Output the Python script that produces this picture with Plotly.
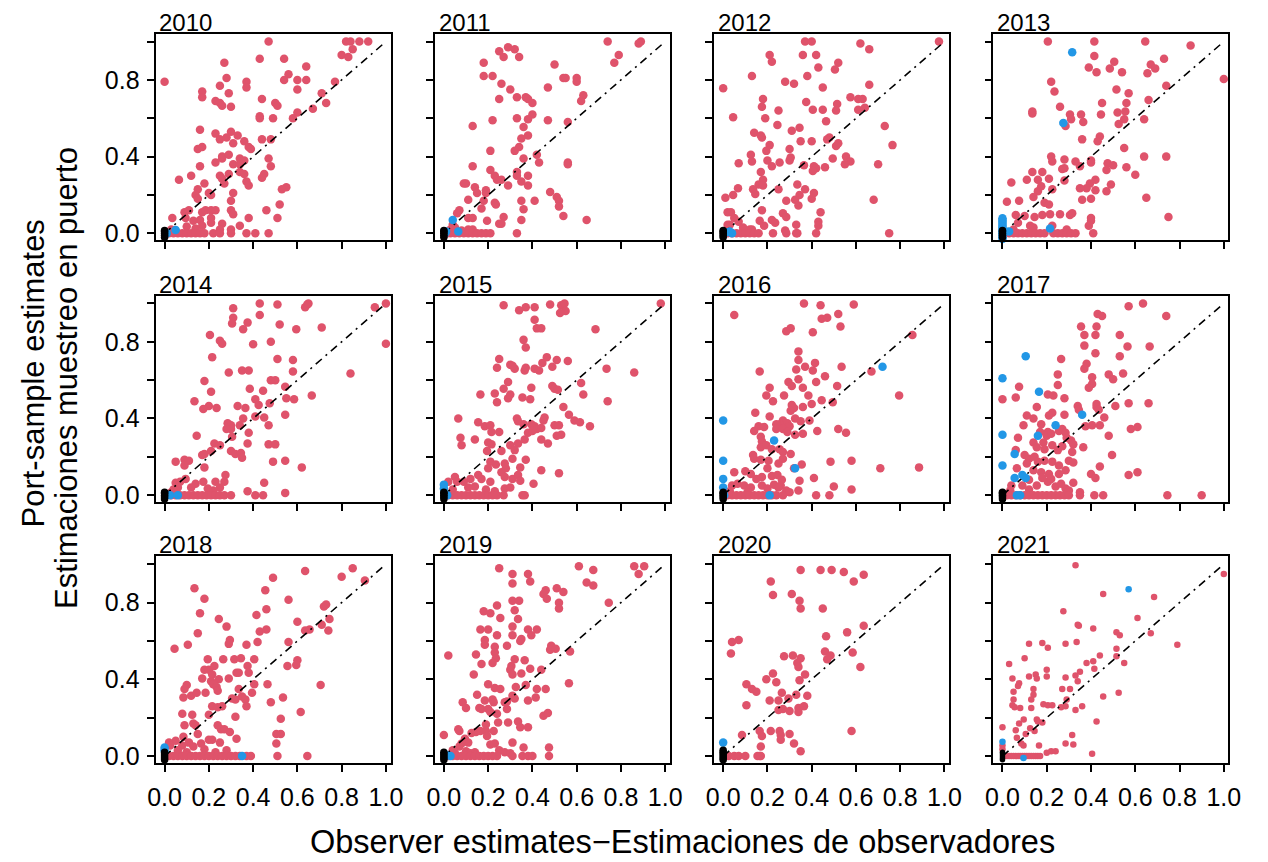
import plotly.graph_objects as go

# ---------------------------------------------------------------------------
# Data: (observer estimate, port-sample estimate) pairs for each year.
# red = main group, blue = secondary group, black = trips at the origin
# ---------------------------------------------------------------------------
years = [2010, 2011, 2012, 2013, 2014, 2015, 2016, 2017, 2018, 2019, 2020, 2021]

red_2010 = [
    (0.00, 0.79), (0.47, 1.00), (0.82, 1.00), (0.84, 1.00), (0.88, 1.00), (0.92, 1.00), (0.85, 0.96),
    (0.80, 0.93), (0.83, 0.92), (0.43, 0.91), (0.54, 0.91), (0.27, 0.89), (0.64, 0.87), (0.56, 0.83),
    (0.54, 0.80), (0.60, 0.80), (0.64, 0.80), (0.60, 0.75), (0.77, 0.79), (0.28, 0.81), (0.25, 0.77),
    (0.37, 0.79), (0.37, 0.76), (0.17, 0.74), (0.17, 0.71), (0.29, 0.73), (0.44, 0.70), (0.23, 0.69),
    (0.25, 0.68), (0.26, 0.665), (0.30, 0.66), (0.50, 0.68), (0.51, 0.665), (0.71, 0.73), (0.73, 0.68),
    (0.67, 0.65), (0.60, 0.63), (0.58, 0.60), (0.43, 0.61), (0.43, 0.60), (0.49, 0.60), (0.16, 0.54),
    (0.23, 0.52), (0.30, 0.53), (0.33, 0.51), (0.25, 0.49), (0.28, 0.50), (0.31, 0.47), (0.36, 0.48),
    (0.44, 0.49), (0.48, 0.49), (0.38, 0.45), (0.39, 0.44), (0.15, 0.44), (0.17, 0.45), (0.26, 0.40),
    (0.26, 0.39), (0.29, 0.41), (0.34, 0.39), (0.36, 0.38), (0.47, 0.39), (0.23, 0.37), (0.31, 0.36),
    (0.34, 0.36), (0.48, 0.35), (0.16, 0.35), (0.25, 0.30), (0.26, 0.285), (0.29, 0.31), (0.34, 0.32),
    (0.36, 0.31), (0.45, 0.31), (0.44, 0.29), (0.12, 0.30), (0.065, 0.28), (0.18, 0.26), (0.27, 0.26),
    (0.37, 0.27), (0.38, 0.25), (0.15, 0.23), (0.55, 0.24), (0.53, 0.23), (0.14, 0.20), (0.15, 0.18),
    (0.20, 0.21), (0.21, 0.20), (0.31, 0.21), (0.30, 0.17), (0.52, 0.15), (0.09, 0.11), (0.11, 0.12),
    (0.17, 0.11), (0.185, 0.12), (0.21, 0.12), (0.23, 0.12), (0.30, 0.12), (0.31, 0.10), (0.46, 0.12),
    (0.21, 0.08), (0.38, 0.08), (0.51, 0.08), (0.035, 0.08), (0.095, 0.08), (0.13, 0.065), (0.10, 0.035),
    (0.16, 0.07), (0.17, 0.04), (0.21, 0.055), (0.26, 0.05), (0.34, 0.04), (0.03, 0.02), (0.25, 0.02),
    (0.30, 0.02), (0.14, 0.025),
    (0.02, 0.0), (0.04, 0.0), (0.06, 0.0), (0.08, 0.0), (0.10, 0.0), (0.12, 0.0), (0.14, 0.0), (0.16, 0.0),
    (0.18, 0.0), (0.22, 0.0), (0.25, 0.0), (0.30, 0.0), (0.37, 0.0), (0.41, 0.0), (0.47, 0.0),
]
blue_2010 = [(0.05, 0.017), (0.01, 0.0)]
black_2010 = [(0.0, -0.02), (0.0, -0.01), (0.0, 0.0), (0.0, 0.01), (0.0, 0.015)]

red_2011 = [
    (0.74, 1.0), (0.89, 1.0), (0.88, 0.99), (0.79, 0.93), (0.77, 0.89), (0.29, 0.97), (0.32, 0.96),
    (0.25, 0.95), (0.27, 0.92), (0.34, 0.92), (0.18, 0.89), (0.50, 0.88), (0.18, 0.82), (0.22, 0.82),
    (0.54, 0.81), (0.55, 0.81), (0.60, 0.81), (0.60, 0.79), (0.26, 0.78), (0.30, 0.75), (0.47, 0.76),
    (0.63, 0.72), (0.62, 0.69), (0.25, 0.70), (0.33, 0.71), (0.37, 0.71), (0.38, 0.70), (0.40, 0.68),
    (0.40, 0.62), (0.22, 0.59), (0.33, 0.60), (0.38, 0.595), (0.47, 0.59), (0.56, 0.58), (0.13, 0.56),
    (0.36, 0.555), (0.38, 0.51), (0.35, 0.495), (0.34, 0.45), (0.32, 0.43), (0.21, 0.43), (0.42, 0.41),
    (0.36, 0.39), (0.43, 0.37), (0.56, 0.37), (0.56, 0.36), (0.13, 0.35), (0.21, 0.33), (0.33, 0.32),
    (0.23, 0.30), (0.24, 0.28), (0.26, 0.28), (0.33, 0.30), (0.38, 0.30), (0.35, 0.27), (0.09, 0.26),
    (0.10, 0.26), (0.29, 0.25), (0.38, 0.25), (0.14, 0.24), (0.19, 0.225), (0.19, 0.21), (0.15, 0.21),
    (0.48, 0.215), (0.51, 0.19), (0.52, 0.17), (0.11, 0.175), (0.18, 0.17), (0.23, 0.16), (0.235, 0.15),
    (0.35, 0.17), (0.41, 0.17), (0.17, 0.13), (0.36, 0.125), (0.52, 0.14), (0.07, 0.12), (0.06, 0.105),
    (0.27, 0.085), (0.11, 0.08), (0.13, 0.08), (0.54, 0.09), (0.645, 0.07), (0.195, 0.065), (0.35, 0.07),
    (0.25, 0.05), (0.26, 0.05), (0.04, 0.045), (0.05, 0.03), (0.13, 0.02), (0.11, 0.02), (0.03, 0.02),
    (0.08, 0.015),
    (0.015, 0.0), (0.03, 0.0), (0.05, 0.0), (0.07, 0.0), (0.09, 0.0), (0.11, 0.0), (0.13, 0.0), (0.15, 0.0),
    (0.17, 0.0), (0.19, 0.0), (0.21, 0.0), (0.33, 0.0),
]
blue_2011 = [(0.04, 0.07), (0.065, 0.01), (0.01, 0.01), (0.005, 0.0)]
black_2011 = [(0.0, -0.02), (0.0, -0.01), (0.0, 0.0), (0.0, 0.01), (0.0, 0.015)]

red_2012 = [
    (0.975, 1.0), (0.37, 1.0), (0.40, 1.0), (0.62, 0.99), (0.66, 0.96), (0.21, 0.93), (0.22, 0.895),
    (0.36, 0.93), (0.42, 0.93), (0.52, 0.89), (0.43, 0.865), (0.505, 0.855), (0.13, 0.82), (0.38, 0.82),
    (0.28, 0.79), (0.32, 0.78), (0.0, 0.757), (0.45, 0.76), (0.66, 0.775), (0.575, 0.71), (0.61, 0.70),
    (0.63, 0.70), (0.61, 0.645), (0.64, 0.655), (0.18, 0.70), (0.175, 0.66), (0.375, 0.685), (0.515, 0.675),
    (0.51, 0.64), (0.405, 0.645), (0.45, 0.645), (0.25, 0.64), (0.045, 0.605), (0.19, 0.60), (0.465, 0.585),
    (0.73, 0.56), (0.245, 0.565), (0.345, 0.55), (0.31, 0.535), (0.14, 0.525), (0.17, 0.51), (0.175, 0.50),
    (0.35, 0.48), (0.40, 0.48), (0.48, 0.50), (0.47, 0.49), (0.52, 0.47), (0.51, 0.455), (0.765, 0.46),
    (0.21, 0.46), (0.195, 0.43), (0.30, 0.44), (0.125, 0.41), (0.305, 0.395), (0.30, 0.38), (0.495, 0.39),
    (0.555, 0.40), (0.575, 0.375), (0.55, 0.36), (0.07, 0.365), (0.13, 0.375), (0.20, 0.38), (0.22, 0.35),
    (0.255, 0.37), (0.70, 0.36), (0.365, 0.355), (0.41, 0.35), (0.42, 0.34), (0.405, 0.325), (0.46, 0.345),
    (0.17, 0.32), (0.18, 0.28), (0.16, 0.255), (0.18, 0.25), (0.335, 0.255), (0.067, 0.235), (0.135, 0.23),
    (0.145, 0.205), (0.25, 0.23), (0.37, 0.23), (0.41, 0.21), (0.345, 0.20), (0.01, 0.185), (0.045, 0.20),
    (0.285, 0.17), (0.325, 0.175), (0.40, 0.18), (0.68, 0.175), (0.34, 0.145), (0.02, 0.11), (0.035, 0.11),
    (0.175, 0.12), (0.27, 0.105), (0.285, 0.085), (0.44, 0.11), (0.05, 0.08), (0.07, 0.06), (0.22, 0.07),
    (0.235, 0.055), (0.165, 0.065), (0.185, 0.04), (0.43, 0.06), (0.43, 0.04), (0.33, 0.045), (0.02, 0.045),
    (0.03, 0.045), (0.12, 0.02), (0.13, 0.02), (0.09, 0.03), (0.28, 0.015),
    (0.02, 0.0), (0.04, 0.0), (0.06, 0.0), (0.08, 0.0), (0.10, 0.0), (0.12, 0.0), (0.14, 0.0), (0.16, 0.0),
    (0.225, 0.0), (0.285, 0.0), (0.33, 0.0), (0.335, 0.0), (0.42, 0.0), (0.75, 0.0),
]
blue_2012 = [(0.04, 0.0), (0.03, 0.01), (0.015, 0.005)]
black_2012 = [(0.0, -0.02), (0.0, -0.01), (0.0, 0.0), (0.0, 0.01), (0.0, 0.015)]

red_2013 = [
    (0.205, 1.0), (0.415, 1.0), (0.645, 1.0), (0.85, 0.98), (0.415, 0.925), (0.505, 0.895), (0.73, 0.91),
    (0.67, 0.88), (0.69, 0.86), (0.39, 0.865), (0.425, 0.84), (0.485, 0.86), (0.54, 0.84), (0.655, 0.835),
    (1.0, 0.805), (0.22, 0.79), (0.74, 0.77), (0.515, 0.75), (0.235, 0.74), (0.57, 0.73), (0.66, 0.695),
    (0.45, 0.68), (0.56, 0.68), (0.26, 0.66), (0.135, 0.625), (0.135, 0.635), (0.305, 0.62), (0.31, 0.595),
    (0.355, 0.62), (0.445, 0.62), (0.52, 0.63), (0.555, 0.635), (0.55, 0.595), (0.64, 0.595), (0.365, 0.58),
    (0.525, 0.57), (0.285, 0.56), (0.44, 0.505), (0.43, 0.48), (0.36, 0.49), (0.55, 0.445), (0.22, 0.40),
    (0.225, 0.375), (0.28, 0.385), (0.33, 0.375), (0.35, 0.35), (0.40, 0.38), (0.40, 0.37), (0.64, 0.40),
    (0.74, 0.40), (0.475, 0.365), (0.50, 0.355), (0.47, 0.33), (0.28, 0.34), (0.27, 0.335), (0.56, 0.345),
    (0.135, 0.32), (0.18, 0.32), (0.60, 0.305), (0.11, 0.28), (0.16, 0.28), (0.21, 0.285), (0.28, 0.275),
    (0.42, 0.28), (0.04, 0.265), (0.175, 0.245), (0.16, 0.22), (0.225, 0.23), (0.395, 0.26), (0.38, 0.235),
    (0.35, 0.235), (0.49, 0.255), (0.42, 0.225), (0.47, 0.22), (0.14, 0.19), (0.19, 0.16), (0.21, 0.15),
    (0.075, 0.17), (0.02, 0.165), (0.36, 0.175), (0.40, 0.18), (0.65, 0.185), (0.06, 0.095), (0.07, 0.055),
    (0.10, 0.09), (0.145, 0.085), (0.18, 0.095), (0.215, 0.10), (0.26, 0.10), (0.305, 0.095), (0.315, 0.105),
    (0.40, 0.08), (0.40, 0.065), (0.39, 0.04), (0.75, 0.085), (0.125, 0.04), (0.14, 0.03), (0.225, 0.04),
    (0.05, 0.02), (0.29, 0.02),
    (0.03, 0.0), (0.05, 0.0), (0.07, 0.0), (0.09, 0.0), (0.11, 0.0), (0.13, 0.0), (0.15, 0.0), (0.17, 0.0),
    (0.19, 0.0), (0.23, 0.0), (0.25, 0.0), (0.27, 0.0), (0.29, 0.0), (0.31, 0.0), (0.33, 0.0), (0.41, 0.0),
]
blue_2013 = [
    (0.315, 0.945), (0.275, 0.575), (0.215, 0.025), (0.03, 0.01),
    (0.0, -0.07), (0.0, -0.06), (0.0, -0.05), (0.0, -0.04), (0.0, -0.03), (0.0, -0.02), (0.0, -0.01),
    (0.0, 0.0), (0.0, 0.01), (0.0, 0.02), (0.0, 0.03), (0.0, 0.04), (0.0, 0.05), (0.0, 0.06), (0.0, 0.07),
    (0.0, 0.078),
]
black_2013 = [(0.0, -0.02), (0.0, -0.01), (0.0, 0.0), (0.0, 0.01), (0.0, 0.015)]

red_2014 = [
    (0.43, 1.0), (0.51, 0.995), (0.645, 0.995), (0.635, 0.98), (0.65, 1.0), (0.95, 0.98), (1.0, 1.0),
    (0.31, 0.975), (0.43, 0.94), (0.31, 0.925), (0.305, 0.895), (0.375, 0.90), (0.52, 0.89), (0.71, 0.875),
    (0.355, 0.865), (0.595, 0.865), (0.205, 0.835), (0.25, 0.805), (0.26, 0.79), (0.48, 0.80), (0.40, 0.787),
    (1.0, 0.79), (0.215, 0.72), (0.51, 0.71), (0.58, 0.705), (0.35, 0.65), (0.38, 0.65), (0.29, 0.64),
    (0.58, 0.645), (0.84, 0.635), (0.18, 0.595), (0.48, 0.60), (0.50, 0.60), (0.545, 0.565), (0.385, 0.555),
    (0.21, 0.54), (0.445, 0.545), (0.665, 0.52), (0.41, 0.50), (0.425, 0.47), (0.55, 0.505), (0.585, 0.50),
    (0.135, 0.49), (0.20, 0.465), (0.175, 0.45), (0.235, 0.455), (0.33, 0.465), (0.365, 0.455), (0.475, 0.48),
    (0.41, 0.41), (0.45, 0.405), (0.545, 0.42), (0.355, 0.40), (0.285, 0.375), (0.30, 0.365), (0.30, 0.345),
    (0.28, 0.345), (0.34, 0.365), (0.38, 0.325), (0.47, 0.365), (0.145, 0.31), (0.305, 0.305), (0.225, 0.27),
    (0.25, 0.26), (0.375, 0.27), (0.47, 0.265), (0.50, 0.265), (0.17, 0.21), (0.18, 0.215), (0.21, 0.23),
    (0.30, 0.23), (0.32, 0.215), (0.345, 0.22), (0.35, 0.195), (0.05, 0.175), (0.09, 0.185), (0.11, 0.18),
    (0.09, 0.155), (0.18, 0.145), (0.49, 0.175), (0.545, 0.18), (0.62, 0.145), (0.095, 0.085), (0.05, 0.065),
    (0.07, 0.07), (0.06, 0.04), (0.275, 0.105), (0.14, 0.06), (0.175, 0.07), (0.23, 0.07), (0.27, 0.07),
    (0.25, 0.04), (0.45, 0.065), (0.375, 0.02), (0.545, 0.012), (0.12, 0.04), (0.195, 0.035), (0.22, 0.025),
    (0.04, 0.03), (0.03, 0.015),
    (0.03, 0.0), (0.05, 0.0), (0.07, 0.0), (0.09, 0.0), (0.11, 0.0), (0.13, 0.0), (0.15, 0.0), (0.17, 0.0),
    (0.19, 0.0), (0.21, 0.0), (0.23, 0.0), (0.25, 0.0), (0.27, 0.0), (0.30, 0.0), (0.41, 0.0), (0.445, 0.0),
]
blue_2014 = [(0.025, 0.0), (0.06, 0.0)]
black_2014 = [(0.0, -0.02), (0.0, -0.01), (0.0, 0.0), (0.0, 0.01), (0.0, 0.015)]

red_2015 = [
    (0.98, 1.0), (0.27, 0.99), (0.37, 0.98), (0.41, 0.98), (0.34, 0.965), (0.48, 0.995), (0.53, 0.99),
    (0.545, 1.0), (0.55, 0.96), (0.525, 0.95), (0.41, 0.915), (0.42, 0.87), (0.44, 0.87), (0.685, 0.865),
    (0.36, 0.81), (0.37, 0.77), (0.25, 0.71), (0.24, 0.665), (0.30, 0.68), (0.32, 0.66), (0.31, 0.675),
    (0.365, 0.65), (0.37, 0.665), (0.41, 0.66), (0.43, 0.65), (0.445, 0.69), (0.465, 0.72), (0.49, 0.67),
    (0.51, 0.705), (0.56, 0.70), (0.735, 0.66), (0.86, 0.64), (0.29, 0.59), (0.27, 0.555), (0.29, 0.505),
    (0.30, 0.525), (0.23, 0.53), (0.165, 0.525), (0.24, 0.485), (0.355, 0.51), (0.39, 0.50), (0.395, 0.56),
    (0.49, 0.57), (0.50, 0.555), (0.515, 0.55), (0.62, 0.585), (0.63, 0.525), (0.74, 0.49), (0.54, 0.46),
    (0.065, 0.40), (0.155, 0.38), (0.185, 0.36), (0.21, 0.365), (0.215, 0.33), (0.25, 0.33), (0.33, 0.40),
    (0.335, 0.385), (0.36, 0.37), (0.395, 0.37), (0.41, 0.36), (0.42, 0.345), (0.44, 0.35), (0.455, 0.405),
    (0.45, 0.39), (0.50, 0.365), (0.52, 0.365), (0.53, 0.315), (0.51, 0.31), (0.565, 0.42), (0.59, 0.39),
    (0.615, 0.38), (0.66, 0.36), (0.38, 0.325), (0.40, 0.335), (0.44, 0.29), (0.47, 0.27), (0.075, 0.30),
    (0.08, 0.26), (0.14, 0.29), (0.20, 0.275), (0.215, 0.265), (0.195, 0.23), (0.26, 0.23), (0.30, 0.26),
    (0.335, 0.27), (0.365, 0.29), (0.32, 0.235), (0.31, 0.19), (0.37, 0.185), (0.21, 0.175), (0.235, 0.16),
    (0.275, 0.165), (0.20, 0.14), (0.26, 0.12), (0.28, 0.14), (0.345, 0.145), (0.44, 0.13), (0.52, 0.115),
    (0.155, 0.105), (0.17, 0.085), (0.12, 0.085), (0.09, 0.07), (0.05, 0.095), (0.06, 0.07), (0.02, 0.07),
    (0.21, 0.07), (0.275, 0.095), (0.31, 0.085), (0.335, 0.105), (0.345, 0.075), (0.405, 0.06), (0.275, 0.035),
    (0.30, 0.04), (0.14, 0.045), (0.11, 0.04), (0.04, 0.03), (0.19, 0.03), (0.23, 0.02),
    (0.02, 0.0), (0.04, 0.0), (0.06, 0.0), (0.08, 0.0), (0.10, 0.0), (0.12, 0.0), (0.14, 0.0), (0.16, 0.0),
    (0.18, 0.0), (0.20, 0.0), (0.22, 0.0), (0.24, 0.0), (0.27, 0.0), (0.355, 0.0), (0.365, 0.0),
]
blue_2015 = [(0.0, 0.055), (0.0, 0.035), (0.015, 0.0)]
black_2015 = [(0.0, -0.02), (0.0, -0.01), (0.0, 0.0), (0.0, 0.01), (0.0, 0.015)]

red_2016 = [
    (0.365, 1.0), (0.44, 0.99), (0.59, 0.995), (0.05, 0.94), (0.52, 0.945), (0.445, 0.92), (0.47, 0.925),
    (0.53, 0.88), (0.285, 0.855), (0.305, 0.87), (0.405, 0.85), (0.855, 0.835), (0.34, 0.75), (0.34, 0.705),
    (0.415, 0.69), (0.37, 0.67), (0.33, 0.655), (0.405, 0.65), (0.535, 0.67), (0.165, 0.645), (0.67, 0.645),
    (0.46, 0.62), (0.34, 0.605), (0.42, 0.59), (0.295, 0.59), (0.31, 0.57), (0.515, 0.57), (0.21, 0.56),
    (0.36, 0.56), (0.795, 0.52), (0.195, 0.52), (0.275, 0.52), (0.385, 0.52), (0.445, 0.495), (0.495, 0.485),
    (0.225, 0.49), (0.40, 0.475), (0.31, 0.47), (0.32, 0.455), (0.305, 0.44), (0.36, 0.46), (0.145, 0.43),
    (0.21, 0.41), (0.325, 0.40), (0.35, 0.385), (0.39, 0.39), (0.27, 0.39), (0.255, 0.37), (0.29, 0.375),
    (0.30, 0.36), (0.16, 0.36), (0.185, 0.355), (0.14, 0.335), (0.17, 0.305), (0.24, 0.37), (0.24, 0.345),
    (0.27, 0.345), (0.29, 0.33), (0.325, 0.315), (0.36, 0.32), (0.425, 0.335), (0.52, 0.345), (0.555, 0.325),
    (0.175, 0.28), (0.17, 0.25), (0.195, 0.26), (0.22, 0.24), (0.255, 0.24), (0.27, 0.225), (0.135, 0.21),
    (0.14, 0.19), (0.17, 0.185), (0.205, 0.18), (0.20, 0.14), (0.27, 0.19), (0.25, 0.165), (0.305, 0.215),
    (0.32, 0.14), (0.355, 0.16), (0.485, 0.175), (0.58, 0.18), (0.71, 0.14), (0.885, 0.145), (0.05, 0.12),
    (0.10, 0.125), (0.125, 0.11), (0.15, 0.085), (0.175, 0.095), (0.22, 0.10), (0.245, 0.105), (0.265, 0.08),
    (0.26, 0.05), (0.345, 0.075), (0.41, 0.09), (0.50, 0.045), (0.58, 0.03), (0.34, 0.025), (0.04, 0.05),
    (0.065, 0.06), (0.095, 0.05), (0.125, 0.04), (0.175, 0.05), (0.20, 0.035), (0.23, 0.055), (0.25, 0.04),
    (0.285, 0.025), (0.30, 0.015), (0.03, 0.02), (0.11, 0.015),
    (0.02, 0.0), (0.04, 0.0), (0.06, 0.0), (0.08, 0.0), (0.10, 0.0), (0.12, 0.0), (0.14, 0.0), (0.16, 0.0),
    (0.18, 0.0), (0.20, 0.0), (0.22, 0.0), (0.24, 0.0), (0.27, 0.0), (0.42, 0.0), (0.48, 0.0),
]
blue_2016 = [(0.72, 0.67), (0.23, 0.285), (0.325, 0.14), (0.0, 0.39), (0.0, 0.18), (0.0, 0.085),
             (0.0, 0.04), (0.005, 0.0), (0.21, 0.0)]
black_2016 = [(0.0, -0.02), (0.0, -0.01), (0.0, 0.0), (0.0, 0.01), (0.0, 0.015)]

red_2017 = [
    (0.57, 0.985), (0.635, 1.0), (0.74, 0.935), (0.43, 0.945), (0.45, 0.935), (0.355, 0.88), (0.425, 0.88),
    (0.37, 0.835), (0.42, 0.835), (0.53, 0.835), (0.37, 0.78), (0.565, 0.775), (0.665, 0.775), (0.42, 0.74),
    (0.53, 0.725), (0.265, 0.71), (0.38, 0.685), (0.37, 0.66), (0.25, 0.63), (0.25, 0.575), (0.405, 0.615),
    (0.48, 0.63), (0.50, 0.605), (0.545, 0.635), (0.405, 0.58), (0.39, 0.56), (0.075, 0.565), (0.205, 0.525),
    (0.23, 0.52), (0.28, 0.505), (0.0, 0.50), (0.06, 0.51), (0.425, 0.475), (0.425, 0.46), (0.435, 0.445),
    (0.34, 0.465), (0.345, 0.445), (0.51, 0.465), (0.57, 0.48), (0.66, 0.48), (0.155, 0.46), (0.225, 0.43),
    (0.21, 0.415), (0.28, 0.42), (0.11, 0.415), (0.14, 0.40), (0.46, 0.405), (0.095, 0.365), (0.175, 0.37),
    (0.17, 0.33), (0.375, 0.36), (0.405, 0.365), (0.44, 0.365), (0.58, 0.345), (0.61, 0.355), (0.205, 0.33),
    (0.20, 0.31), (0.22, 0.32), (0.255, 0.335), (0.27, 0.345), (0.285, 0.325), (0.29, 0.30), (0.07, 0.30),
    (0.48, 0.31), (0.14, 0.275), (0.155, 0.25), (0.185, 0.275), (0.19, 0.24), (0.225, 0.26), (0.25, 0.235),
    (0.27, 0.255), (0.31, 0.285), (0.32, 0.265), (0.365, 0.25), (0.315, 0.225), (0.06, 0.235), (0.10, 0.21),
    (0.12, 0.19), (0.11, 0.165), (0.065, 0.14), (0.145, 0.20), (0.16, 0.175), (0.19, 0.18), (0.225, 0.175),
    (0.255, 0.155), (0.30, 0.18), (0.32, 0.17), (0.495, 0.21), (0.44, 0.15), (0.40, 0.11), (0.42, 0.09),
    (0.57, 0.105), (0.61, 0.12), (0.14, 0.13), (0.175, 0.12), (0.21, 0.11), (0.255, 0.11), (0.285, 0.13),
    (0.32, 0.065), (0.205, 0.07), (0.155, 0.05), (0.24, 0.045), (0.285, 0.035), (0.30, 0.025), (0.35, 0.015),
    (0.04, 0.05), (0.035, 0.025), (0.12, 0.08), (0.09, 0.05), (0.12, 0.03), (0.18, 0.09), (0.22, 0.085),
    (0.265, 0.06),
    (0.02, 0.0), (0.04, 0.0), (0.06, 0.0), (0.08, 0.0), (0.10, 0.0), (0.12, 0.0), (0.14, 0.0), (0.16, 0.0),
    (0.18, 0.0), (0.20, 0.0), (0.22, 0.0), (0.24, 0.0), (0.26, 0.0), (0.28, 0.0), (0.30, 0.0), (0.35, 0.0),
    (0.415, 0.0), (0.455, 0.0), (0.745, 0.0), (0.90, 0.0),
]
blue_2017 = [(0.105, 0.725), (0.0, 0.61), (0.165, 0.54), (0.36, 0.42), (0.24, 0.365), (0.16, 0.31),
             (0.0, 0.315), (0.055, 0.215), (0.0, 0.155), (0.055, 0.09), (0.09, 0.105), (0.105, 0.09),
             (0.065, 0.0), (0.08, 0.0)]
black_2017 = [(0.0, -0.02), (0.0, -0.01), (0.0, 0.0), (0.0, 0.01), (0.0, 0.015)]

red_2018 = [
    (0.85, 0.98), (0.635, 0.965), (0.80, 0.935), (0.905, 0.915), (0.49, 0.93), (0.455, 0.865), (0.135, 0.875),
    (0.18, 0.82), (0.56, 0.815), (0.46, 0.765), (0.16, 0.745), (0.72, 0.78), (0.73, 0.79), (0.415, 0.735),
    (0.245, 0.715), (0.28, 0.675), (0.60, 0.70), (0.745, 0.715), (0.71, 0.685), (0.74, 0.655), (0.43, 0.65),
    (0.46, 0.66), (0.635, 0.655), (0.655, 0.66), (0.15, 0.64), (0.295, 0.605), (0.29, 0.585), (0.42, 0.595),
    (0.37, 0.58), (0.56, 0.595), (0.045, 0.56), (0.105, 0.58), (0.195, 0.505), (0.18, 0.45), (0.20, 0.45),
    (0.225, 0.47), (0.265, 0.505), (0.315, 0.505), (0.345, 0.51), (0.405, 0.505), (0.375, 0.47), (0.38, 0.435),
    (0.60, 0.50), (0.595, 0.475), (0.555, 0.47), (0.17, 0.405), (0.215, 0.425), (0.21, 0.39), (0.245, 0.40),
    (0.29, 0.405), (0.325, 0.435), (0.335, 0.435), (0.10, 0.37), (0.09, 0.35), (0.085, 0.305), (0.12, 0.315),
    (0.145, 0.33), (0.185, 0.33), (0.22, 0.375), (0.235, 0.36), (0.24, 0.34), (0.305, 0.30), (0.32, 0.295),
    (0.35, 0.31), (0.365, 0.295), (0.395, 0.33), (0.405, 0.375), (0.335, 0.35), (0.465, 0.375), (0.48, 0.28),
    (0.705, 0.37), (0.535, 0.305), (0.215, 0.26), (0.24, 0.255), (0.26, 0.26), (0.37, 0.26), (0.08, 0.22),
    (0.09, 0.16), (0.125, 0.215), (0.13, 0.17), (0.14, 0.16), (0.15, 0.115), (0.20, 0.215), (0.32, 0.205),
    (0.24, 0.16), (0.255, 0.14), (0.27, 0.14), (0.525, 0.195), (0.525, 0.115), (0.505, 0.115), (0.505, 0.065),
    (0.615, 0.23), (0.295, 0.125), (0.325, 0.09), (0.20, 0.085), (0.215, 0.085), (0.25, 0.07), (0.085, 0.10),
    (0.05, 0.08), (0.11, 0.07), (0.08, 0.055), (0.165, 0.065), (0.13, 0.05), (0.18, 0.035), (0.02, 0.07),
    (0.025, 0.055), (0.06, 0.03), (0.10, 0.02), (0.28, 0.03), (0.23, 0.02),
    (0.02, 0.0), (0.04, 0.0), (0.06, 0.0), (0.08, 0.0), (0.10, 0.0), (0.12, 0.0), (0.14, 0.0), (0.16, 0.0),
    (0.18, 0.0), (0.20, 0.0), (0.22, 0.0), (0.24, 0.0), (0.26, 0.0), (0.28, 0.0), (0.30, 0.0), (0.32, 0.0),
    (0.34, 0.0), (0.37, 0.0), (0.39, 0.0), (0.51, 0.0), (0.645, 0.0),
]
blue_2018 = [(0.0, 0.045), (0.35, 0.0), (0.0, 0.03)]
black_2018 = [(0.0, -0.02), (0.0, -0.01), (0.0, 0.0), (0.0, 0.01), (0.0, 0.02)]

red_2019 = [
    (0.25, 0.98), (0.61, 0.99), (0.675, 0.97), (0.86, 0.99), (0.905, 0.99), (0.88, 0.95), (0.31, 0.95),
    (0.31, 0.90), (0.38, 0.95), (0.39, 0.91), (0.645, 0.905), (0.675, 0.89), (0.51, 0.875), (0.54, 0.855),
    (0.46, 0.865), (0.45, 0.845), (0.465, 0.82), (0.31, 0.81), (0.34, 0.81), (0.52, 0.80), (0.52, 0.77),
    (0.745, 0.80), (0.24, 0.785), (0.32, 0.76), (0.18, 0.755), (0.21, 0.745), (0.255, 0.72), (0.335, 0.715),
    (0.165, 0.66), (0.20, 0.66), (0.31, 0.675), (0.38, 0.66), (0.42, 0.66), (0.395, 0.63), (0.24, 0.63),
    (0.31, 0.63), (0.35, 0.61), (0.345, 0.60), (0.185, 0.605), (0.185, 0.58), (0.23, 0.57), (0.285, 0.575),
    (0.485, 0.575), (0.48, 0.555), (0.505, 0.56), (0.57, 0.545), (0.02, 0.525), (0.145, 0.53), (0.23, 0.54),
    (0.235, 0.51), (0.22, 0.485), (0.32, 0.505), (0.365, 0.50), (0.17, 0.48), (0.305, 0.47), (0.30, 0.45),
    (0.31, 0.425), (0.39, 0.455), (0.35, 0.43), (0.44, 0.45), (0.135, 0.425), (0.565, 0.38), (0.20, 0.375),
    (0.23, 0.355), (0.255, 0.35), (0.325, 0.36), (0.37, 0.37), (0.42, 0.35), (0.46, 0.35), (0.15, 0.32),
    (0.22, 0.295), (0.225, 0.28), (0.185, 0.29), (0.17, 0.245), (0.275, 0.28), (0.285, 0.285), (0.31, 0.315),
    (0.32, 0.30), (0.38, 0.29), (0.415, 0.305), (0.085, 0.28), (0.10, 0.25), (0.16, 0.25), (0.20, 0.245),
    (0.21, 0.23), (0.24, 0.22), (0.285, 0.245), (0.45, 0.21), (0.47, 0.225), (0.245, 0.175), (0.29, 0.175),
    (0.335, 0.18), (0.345, 0.15), (0.38, 0.15), (0.065, 0.14), (0.07, 0.13), (0.0, 0.11), (0.19, 0.165),
    (0.19, 0.13), (0.225, 0.13), (0.125, 0.12), (0.145, 0.125), (0.165, 0.13), (0.095, 0.09), (0.11, 0.07),
    (0.08, 0.065), (0.07, 0.05), (0.195, 0.105), (0.21, 0.06), (0.23, 0.065), (0.31, 0.07), (0.36, 0.045),
    (0.475, 0.045), (0.25, 0.03), (0.275, 0.02), (0.30, 0.015), (0.14, 0.02), (0.10, 0.025), (0.12, 0.015),
    (0.04, 0.03), (0.05, 0.015),
    (0.02, 0.0), (0.04, 0.0), (0.06, 0.0), (0.08, 0.0), (0.10, 0.0), (0.12, 0.0), (0.14, 0.0), (0.16, 0.0),
    (0.18, 0.0), (0.20, 0.0), (0.22, 0.0), (0.24, 0.0), (0.31, 0.0), (0.355, 0.0), (0.38, 0.0), (0.40, 0.0),
    (0.475, 0.0),
]
blue_2019 = [(0.03, 0.0), (0.01, 0.005)]
black_2019 = [(0.0, -0.02), (0.0, -0.01), (0.0, 0.0), (0.0, 0.01), (0.0, 0.02)]

red_2020 = [
    (0.35, 0.97), (0.44, 0.97), (0.49, 0.97), (0.545, 0.96), (0.635, 0.945), (0.59, 0.91), (0.215, 0.91),
    (0.225, 0.84), (0.31, 0.845), (0.345, 0.81), (0.35, 0.77), (0.45, 0.77), (0.635, 0.68), (0.56, 0.645),
    (0.465, 0.625), (0.04, 0.595), (0.07, 0.605), (0.035, 0.535), (0.46, 0.545), (0.485, 0.525), (0.47, 0.505),
    (0.585, 0.54), (0.275, 0.52), (0.315, 0.525), (0.35, 0.51), (0.335, 0.485), (0.34, 0.465), (0.62, 0.465),
    (0.37, 0.425), (0.225, 0.43), (0.195, 0.40), (0.24, 0.385), (0.345, 0.395), (0.105, 0.375), (0.13, 0.35),
    (0.15, 0.335), (0.265, 0.33), (0.33, 0.32), (0.38, 0.315), (0.21, 0.29), (0.25, 0.29), (0.295, 0.30),
    (0.105, 0.265), (0.25, 0.24), (0.27, 0.245), (0.30, 0.235), (0.34, 0.25), (0.34, 0.23), (0.365, 0.26),
    (0.215, 0.13), (0.255, 0.13), (0.26, 0.11), (0.26, 0.085), (0.165, 0.13), (0.175, 0.105), (0.17, 0.05),
    (0.30, 0.115), (0.32, 0.065), (0.35, 0.025), (0.085, 0.11), (0.58, 0.13),
    (0.025, 0.0), (0.05, 0.0), (0.07, 0.0), (0.10, 0.0), (0.155, 0.0), (0.165, 0.0), (0.17, 0.0),
]
blue_2020 = [(0.0, 0.07)]
black_2020 = [(0.0, -0.02), (0.0, -0.01), (0.0, 0.0), (0.0, 0.01), (0.0, 0.02), (0.0, 0.03)]

red_2021 = [
    (0.33, 0.995), (1.0, 0.95), (0.455, 0.845), (0.685, 0.83), (0.275, 0.755), (0.61, 0.72), (0.34, 0.685),
    (0.345, 0.68), (0.41, 0.665), (0.515, 0.645), (0.53, 0.63), (0.67, 0.64), (0.12, 0.585), (0.18, 0.59),
    (0.205, 0.565), (0.285, 0.585), (0.335, 0.595), (0.79, 0.58), (0.515, 0.56), (0.44, 0.525), (0.515, 0.52),
    (0.10, 0.51), (0.41, 0.495), (0.415, 0.455), (0.38, 0.485), (0.55, 0.485), (0.03, 0.48), (0.20, 0.45),
    (0.35, 0.44), (0.33, 0.42), (0.12, 0.415), (0.15, 0.425), (0.155, 0.405), (0.20, 0.415), (0.045, 0.405),
    (0.285, 0.41), (0.34, 0.39), (0.075, 0.38), (0.07, 0.365), (0.14, 0.35), (0.14, 0.32), (0.27, 0.35),
    (0.305, 0.35), (0.05, 0.335), (0.525, 0.33), (0.455, 0.31), (0.13, 0.295), (0.05, 0.295), (0.29, 0.295),
    (0.045, 0.265), (0.055, 0.255), (0.08, 0.25), (0.13, 0.25), (0.185, 0.27), (0.205, 0.265), (0.225, 0.265),
    (0.265, 0.255), (0.285, 0.26), (0.36, 0.26), (0.33, 0.24), (0.155, 0.19), (0.16, 0.18), (0.096, 0.19),
    (0.075, 0.17), (0.18, 0.175), (0.425, 0.18), (0.0, 0.15), (0.06, 0.135), (0.125, 0.145), (0.145, 0.13),
    (0.105, 0.115), (0.315, 0.11), (0.065, 0.095), (0.085, 0.065), (0.095, 0.055), (0.165, 0.055),
    (0.285, 0.065), (0.32, 0.06), (0.20, 0.017), (0.22, 0.025), (0.24, 0.025), (0.405, 0.012), (0.0, 0.055),
    (0.0, 0.035),
    (0.01, 0.0), (0.02, 0.0), (0.03, 0.0), (0.04, 0.0), (0.05, 0.0), (0.06, 0.0), (0.07, 0.0), (0.08, 0.0),
    (0.09, 0.0), (0.10, 0.0), (0.11, 0.0), (0.12, 0.0), (0.13, 0.0), (0.14, 0.0), (0.15, 0.0), (0.16, 0.0),
    (0.17, 0.0),
]
blue_2021 = [(0.57, 0.87), (0.0, 0.075), (0.095, -0.01)]
black_2021 = [(0.0, -0.02), (0.0, -0.01), (0.0, 0.0), (0.0, 0.01), (0.0, 0.02)]

red_by_year = [red_2010, red_2011, red_2012, red_2013, red_2014, red_2015,
               red_2016, red_2017, red_2018, red_2019, red_2020, red_2021]
blue_by_year = [blue_2010, blue_2011, blue_2012, blue_2013, blue_2014, blue_2015,
                blue_2016, blue_2017, blue_2018, blue_2019, blue_2020, blue_2021]
black_by_year = [black_2010, black_2011, black_2012, black_2013, black_2014, black_2015,
                 black_2016, black_2017, black_2018, black_2019, black_2020, black_2021]

tick_values = [0.0, 0.2, 0.4, 0.6, 0.8, 1.0]
x_tick_text = ["0.0", "0.2", "0.4", "0.6", "0.8", "1.0"]
y_tick_text = ["0.0", "", "0.4", "", "0.8", ""]

# ---------------------------------------------------------------------------
# Layout geometry (pixels)
# ---------------------------------------------------------------------------
W, H = 1268, 862
COL_LEFT = [150, 434, 718, 1002]
ROW_TOP = [34, 298, 561]
PW, PH = 239, 208
X_RANGE = [-0.041, 1.021]
Y_RANGE = [-0.035, 1.041]

RED = "#DF536B"
BLUE = "#2297E6"
BLACK = "#000000"
FONT = "Liberation Sans, Arial, Helvetica, sans-serif"

fig = go.Figure()
annotations = []
layout_axes = {}


def split(points):
    return [p[0] for p in points], [p[1] for p in points]


for i, year in enumerate(years):
    r, c = divmod(i, 4)
    k = i + 1
    xname = "x" if k == 1 else f"x{k}"
    yname = "y" if k == 1 else f"y{k}"
    msize = 6.5 if year == 2021 else 8.5

    left, top = COL_LEFT[c], ROW_TOP[r]
    xdom = [left / W, (left + PW) / W]
    ydom = [1 - (top + PH) / H, 1 - top / H]

    rx, ry = split(red_by_year[i])
    fig.add_trace(go.Scatter(x=rx, y=ry, mode="markers", xaxis=xname, yaxis=yname,
                             marker=dict(color=RED, size=msize, line=dict(width=0)),
                             cliponaxis=False, showlegend=False, hoverinfo="skip"))
    fig.add_trace(go.Scatter(x=[0, 1], y=[0, 1], mode="lines", xaxis=xname, yaxis=yname,
                             line=dict(color="black", width=1.6, dash="8px,5px,2px,5px"),
                             showlegend=False, hoverinfo="skip"))
    bx, by = split(blue_by_year[i])
    fig.add_trace(go.Scatter(x=bx, y=by, mode="markers", xaxis=xname, yaxis=yname,
                             marker=dict(color=BLUE, size=msize, line=dict(width=0)),
                             cliponaxis=False, showlegend=False, hoverinfo="skip"))
    kx, ky = split(black_by_year[i])
    fig.add_trace(go.Scatter(x=kx, y=ky, mode="markers", xaxis=xname, yaxis=yname,
                             marker=dict(color=BLACK, size=msize - 1, line=dict(width=0)),
                             cliponaxis=False, showlegend=False, hoverinfo="skip"))

    axis_common = dict(showline=True, linecolor="black", linewidth=1.8, mirror=True,
                       ticks="outside", ticklen=7, tickwidth=1.5, tickcolor="black",
                       showgrid=False, zeroline=False, tickvals=tick_values,
                       tickfont=dict(family=FONT, size=25, color="black"), fixedrange=True)
    layout_axes["xaxis" if k == 1 else f"xaxis{k}"] = dict(
        axis_common, domain=xdom, range=X_RANGE, anchor=yname,
        ticktext=x_tick_text, showticklabels=(r == 2), ticklabelstandoff=4)
    layout_axes["yaxis" if k == 1 else f"yaxis{k}"] = dict(
        axis_common, domain=ydom, range=Y_RANGE, anchor=xname,
        ticktext=y_tick_text, showticklabels=(c == 0), ticklabelstandoff=2)

    annotations.append(dict(text=str(year), x=(left + 2) / W, y=1 - top / H, xref="paper", yref="paper",
                            xanchor="left", yanchor="bottom", showarrow=False, yshift=-4,
                            font=dict(family=FONT, size=24, color="black")))

annotations.append(dict(text="Observer estimates\u2212Estimaciones de observadores",
                        x=686 / W, y=1 - 849 / H, xref="paper", yref="paper",
                        xanchor="center", yanchor="middle", showarrow=False,
                        font=dict(family=FONT, size=32.5, color="black")))
annotations.append(dict(text="Port-sample estimates", x=26 / W, y=1 - 377 / H, xref="paper", yref="paper",
                        xanchor="center", yanchor="middle", showarrow=False, textangle=-90,
                        font=dict(family=FONT, size=31, color="black")))
annotations.append(dict(text="Estimaciones muestreo en puerto", x=60 / W, y=1 - 381 / H,
                        xref="paper", yref="paper", xanchor="center", yanchor="middle",
                        showarrow=False, textangle=-90,
                        font=dict(family=FONT, size=31, color="black")))

fig.update_layout(width=W, height=H, margin=dict(l=0, r=0, t=0, b=0),
                  paper_bgcolor="white", plot_bgcolor="white",
                  annotations=annotations, **layout_axes)

fig.write_html("out.html", config={"displayModeBar": False})
